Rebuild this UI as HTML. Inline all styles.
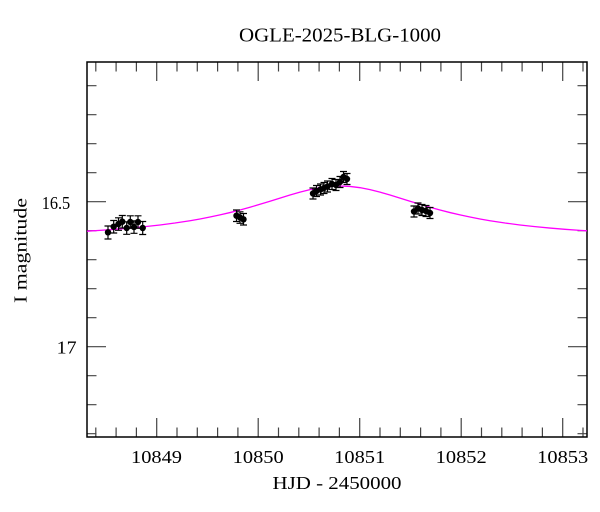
<!DOCTYPE html>
<html><head><meta charset="utf-8"><style>
html,body{margin:0;padding:0;background:#fff;}
svg{display:block;}
text{font-family:"Liberation Serif",serif;fill:#000;}
</style></head><body>
<svg width="600" height="512" viewBox="0 0 600 512" xmlns="http://www.w3.org/2000/svg">
<rect width="600" height="512" fill="#fff"/>
<!-- title -->
<text x="340" y="41.7" font-size="19.5" text-anchor="middle" textLength="202" lengthAdjust="spacingAndGlyphs">OGLE-2025-BLG-1000</text>
<!-- ticks -->
<g stroke="#444" stroke-width="1.2" fill="none">
<path d="M156.7 437V418M258.2 437V418M359.7 437V418M461.2 437V418M562.7 437V418"/>
<path d="M156.7 62V81M258.2 62V81M359.7 62V81M461.2 62V81M562.7 62V81"/>
<path d="M95.8 437v-9.5M116.1 437v-9.5M136.4 437v-9.5M177 437v-9.5M197.3 437v-9.5M217.6 437v-9.5M237.9 437v-9.5M278.5 437v-9.5M298.8 437v-9.5M319.1 437v-9.5M339.4 437v-9.5M380 437v-9.5M400.3 437v-9.5M420.6 437v-9.5M440.9 437v-9.5M481.5 437v-9.5M501.8 437v-9.5M522.1 437v-9.5M542.4 437v-9.5M583 437v-9.5"/>
<path d="M95.8 62v9.5M116.1 62v9.5M136.4 62v9.5M177 62v9.5M197.3 62v9.5M217.6 62v9.5M237.9 62v9.5M278.5 62v9.5M298.8 62v9.5M319.1 62v9.5M339.4 62v9.5M380 62v9.5M400.3 62v9.5M420.6 62v9.5M440.9 62v9.5M481.5 62v9.5M501.8 62v9.5M522.1 62v9.5M542.4 62v9.5M583 62v9.5"/>
<path d="M87 201.7h19M87 346.7h19M587 201.7h-19M587 346.7h-19"/>
<path d="M87 85.7h9.5M87 114.7h9.5M87 143.7h9.5M87 172.7h9.5M87 230.7h9.5M87 259.7h9.5M87 288.7h9.5M87 317.7h9.5M87 375.7h9.5M87 404.7h9.5M87 433.7h9.5"/>
<path d="M587 85.7h-9.5M587 114.7h-9.5M587 143.7h-9.5M587 172.7h-9.5M587 230.7h-9.5M587 259.7h-9.5M587 288.7h-9.5M587 317.7h-9.5M587 375.7h-9.5M587 404.7h-9.5M587 433.7h-9.5"/>
</g>
<!-- frame -->
<rect x="87" y="62" width="500" height="375" fill="none" stroke="#000" stroke-width="1.5"/>
<!-- model curve -->
<polyline fill="none" stroke="#ff00ff" stroke-width="1.3" points="87,231.18 100,230.37 115,229.31 130,228.07 145,226.64 160,224.97 175,223.01 190,220.71 200,218.97 210,217.04 220,214.91 230,212.56 240,210 250,207.23 260,204.29 270,201.21 280,198.07 290,195 300,192.13 310,189.63 320,187.67 330,186.43 340,186 350,186.43 360,187.67 370,189.63 380,192.13 390,195 400,198.07 410,201.21 420,204.29 430,207.23 440,210 450,212.56 460,214.91 470,217.04 480,218.97 490,220.71 505,223.01 520,224.97 535,226.64 550,228.07 565,229.31 580,230.37 587,230.82"/>
<!-- error bars -->
<g stroke="#000" stroke-width="1.2" fill="none">
<path d="M108 226v13M104.5 226h7M104.5 239h7"/>
<path d="M113.7 220.5v12.5M110.2 220.5h7M110.2 233h7"/>
<path d="M118.5 217.8v12.5M115 217.8h7M115 230.3h7"/>
<path d="M122.3 215.5v12.5M118.8 215.5h7M118.8 228h7"/>
<path d="M126.7 221.8v12.5M123.2 221.8h7M123.2 234.3h7"/>
<path d="M130.3 215.8v12.5M126.8 215.8h7M126.8 228.3h7"/>
<path d="M134 220.8v12.5M130.5 220.8h7M130.5 233.3h7"/>
<path d="M138 215.8v12.5M134.5 215.8h7M134.5 228.3h7"/>
<path d="M142.7 221.5v13M139.2 221.5h7M139.2 234.5h7"/>
<path d="M236.5 210v11.5M233 210h7M233 221.5h7"/>
<path d="M240 211.8v11.5M236.5 211.8h7M236.5 223.3h7"/>
<path d="M243.5 213.5v11.5M240 213.5h7M240 225h7"/>
<path d="M313 188v11M309.5 188h7M309.5 199h7"/>
<path d="M316.5 185.5v11M313 185.5h7M313 196.5h7"/>
<path d="M320.5 184v11M317 184h7M317 195h7"/>
<path d="M324 182.5v11M320.5 182.5h7M320.5 193.5h7"/>
<path d="M327.5 181v11M324 181h7M324 192h7"/>
<path d="M332 178.5v11M328.5 178.5h7M328.5 189.5h7"/>
<path d="M336 179.5v11M332.5 179.5h7M332.5 190.5h7"/>
<path d="M340 176.5v11M336.5 176.5h7M336.5 187.5h7"/>
<path d="M343.5 171.5v11M340 171.5h7M340 182.5h7"/>
<path d="M347 173.5v11M343.5 173.5h7M343.5 184.5h7"/>
<path d="M414 206v11M410.5 206h7M410.5 217h7"/>
<path d="M418 203v11M414.5 203h7M414.5 214h7"/>
<path d="M422 204.5v11M418.5 204.5h7M418.5 215.5h7"/>
<path d="M426 205.5v11M422.5 205.5h7M422.5 216.5h7"/>
<path d="M430 207.5v11M426.5 207.5h7M426.5 218.5h7"/>
</g>
<!-- points -->
<g fill="#000">
<circle cx="108" cy="232.3" r="3.2"/>
<circle cx="113.7" cy="226.7" r="3.2"/>
<circle cx="118.5" cy="224" r="3.2"/>
<circle cx="122.3" cy="221.7" r="3.2"/>
<circle cx="126.7" cy="228" r="3.2"/>
<circle cx="130.3" cy="222" r="3.2"/>
<circle cx="134" cy="227" r="3.2"/>
<circle cx="138" cy="222" r="3.2"/>
<circle cx="142.7" cy="228" r="3.2"/>
<circle cx="236.5" cy="215.7" r="3.2"/>
<circle cx="240" cy="217.5" r="3.2"/>
<circle cx="243.5" cy="219.3" r="3.2"/>
<circle cx="313" cy="193.5" r="3.2"/>
<circle cx="316.5" cy="191" r="3.2"/>
<circle cx="320.5" cy="189.5" r="3.2"/>
<circle cx="324" cy="188" r="3.2"/>
<circle cx="327.5" cy="186.5" r="3.2"/>
<circle cx="332" cy="184" r="3.2"/>
<circle cx="336" cy="185" r="3.2"/>
<circle cx="340" cy="182" r="3.2"/>
<circle cx="343.5" cy="177" r="3.2"/>
<circle cx="347" cy="179" r="3.2"/>
<circle cx="414" cy="211.5" r="3.2"/>
<circle cx="418" cy="208.5" r="3.2"/>
<circle cx="422" cy="210" r="3.2"/>
<circle cx="426" cy="211" r="3.2"/>
<circle cx="430" cy="213" r="3.2"/>
</g>
<!-- x tick labels -->
<g font-size="18" text-anchor="middle">
<text x="156.5" y="463" textLength="51" lengthAdjust="spacingAndGlyphs">10849</text>
<text x="258.2" y="463" textLength="51" lengthAdjust="spacingAndGlyphs">10850</text>
<text x="359.7" y="463" textLength="51" lengthAdjust="spacingAndGlyphs">10851</text>
<text x="461.2" y="463" textLength="51" lengthAdjust="spacingAndGlyphs">10852</text>
<text x="562.7" y="463" textLength="51" lengthAdjust="spacingAndGlyphs">10853</text>
</g>
<!-- y tick labels -->
<text x="41.7" y="209" font-size="18" textLength="28.5" lengthAdjust="spacingAndGlyphs">16.5</text>
<text x="56.7" y="353.5" font-size="18" textLength="20" lengthAdjust="spacingAndGlyphs">17</text>
<!-- axis labels -->
<text x="337" y="489" font-size="18" text-anchor="middle" textLength="129" lengthAdjust="spacingAndGlyphs">HJD - 2450000</text>
<text transform="translate(26.5,250.5) rotate(-90)" font-size="18" text-anchor="middle" textLength="105" lengthAdjust="spacingAndGlyphs">I magnitude</text>
</svg>
</body></html>
